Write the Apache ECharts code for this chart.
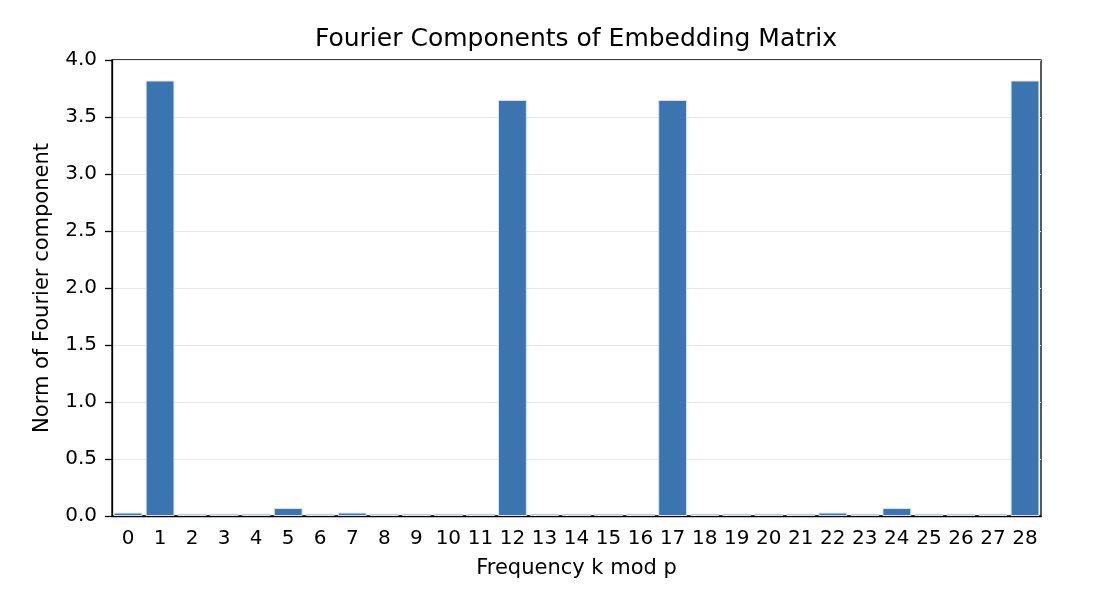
<!DOCTYPE html>
<html>
<head>
<meta charset="utf-8">
<script src="https://cdn.jsdelivr.net/npm/echarts@6/dist/echarts.min.js"></script>
<style>html,body{margin:0;padding:0;background:#fff;}#c{width:1116px;height:600px;}</style>
</head>
<body>
<div id="c"></div>
<script>
const categories = ["0","1","2","3","4","5","6","7","8","9","10","11","12","13","14","15","16","17","18","19","20","21","22","23","24","25","26","27","28"];
const norms = [0.03,3.82,0.02,0.02,0.02,0.07,0.02,0.03,0.02,0.02,0.02,0.02,3.65,0.02,0.02,0.02,0.02,3.65,0.02,0.02,0.02,0.02,0.03,0.02,0.07,0.02,0.02,0.02,3.82];
const yTicks = [0,0.5,1,1.5,2,2.5,3,3.5,4];

const FONT = 'DejaVu Sans';
const chart = echarts.init(document.getElementById('c'), null, {renderer:'canvas'});
chart.setOption({
  animation:false,
  backgroundColor:'#fff',
  title:{text:'Fourier Components of Embedding Matrix', left:571, textAlign:'center', top:22,
    textStyle:{fontFamily:FONT, fontSize:25, fontWeight:'normal', color:'#000'}},
  grid:{left:112, right:75, top:60, bottom:84, show:true, borderColor:'#000', borderWidth:1.3, backgroundColor:'transparent'},
  xAxis:{type:'category', data:categories, boundaryGap:true,
    name:'Frequency k mod p', nameLocation:'middle', nameGap:42,
    nameTextStyle:{fontFamily:FONT, fontSize:21, color:'#000'},
    axisLine:{lineStyle:{color:'#000', width:1.3}},
    axisTick:{alignWithLabel:true, length:7, lineStyle:{color:'#000', width:1.3}},
    axisLabel:{fontFamily:FONT, fontSize:20, color:'#000', margin:13, interval:0},
    splitLine:{show:false}},
  yAxis:{type:'value', min:yTicks[0], max:yTicks[yTicks.length-1], interval:0.5,
    name:'Norm of Fourier component', nameLocation:'middle', nameGap:59,
    nameTextStyle:{fontFamily:FONT, fontSize:21, color:'#000'},
    axisLine:{show:true, lineStyle:{color:'#000', width:1.3}},
    axisTick:{show:true, length:7, lineStyle:{color:'#000', width:1.3}},
    axisLabel:{fontFamily:FONT, fontSize:20, color:'#000', margin:15, formatter:v=>v.toFixed(1)},
    splitLine:{show:true, lineStyle:{color:'#e8e8e8', width:1.2}}},
  series:[{type:'bar', data:norms, barCategoryGap:'10%',
    itemStyle:{color:'#3a75af', borderColor:'#d6e3f0', borderWidth:1}}]
});
</script>
</body>
</html>
